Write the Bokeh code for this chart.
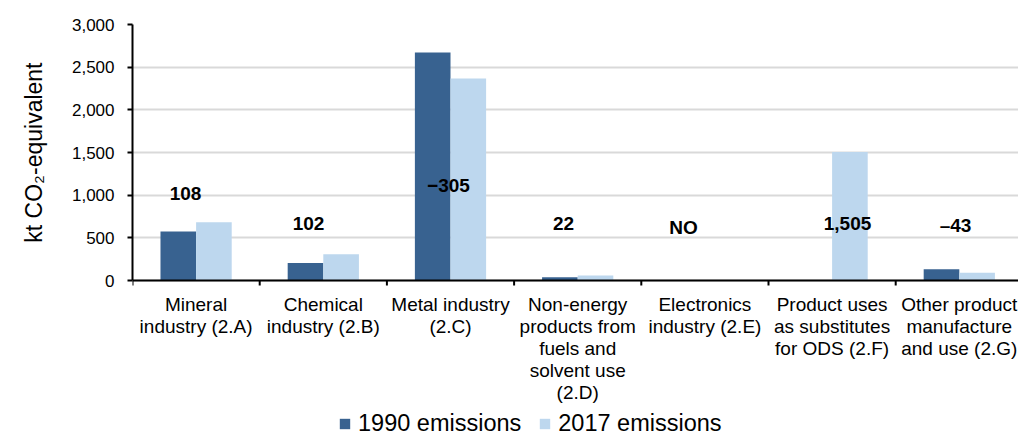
import numpy as np
from bokeh.plotting import figure
from bokeh.models import (FixedTicker, NumeralTickFormatter, Legend, LegendItem,
                          Range1d, ColumnDataSource, Title)
from bokeh.core.properties import value
from bokeh.embed import file_html
from bokeh.resources import INLINE

# ---------------- data ----------------
categories = ["Mineral\nindustry (2.A)", "Chemical\nindustry (2.B)",
              "Metal industry\n(2.C)",
              "Non-energy\nproducts from\nfuels and\nsolvent use\n(2.D)",
              "Electronics\nindustry (2.E)",
              "Product uses\nas substitutes\nfor ODS (2.F)",
              "Other product\nmanufacture\nand use (2.G)"]
emis_1990 = [575, 205, 2672, 38, 0, 0, 133]
emis_2017 = [683, 307, 2367, 60, 0, 1505, 90]
change_labels = ["108", "102", "\u2212305", "22", "NO", "1,505", "\u201343"]
label_x = [0.417, 1.384, 2.484, 3.388, 4.332, 5.621, 6.47]
label_y = [1018, 665, 1112, 665, 618, 665, 641]
y_ticks = [0, 500, 1000, 1500, 2000, 2500, 3000]
y_title = "kt CO\u2082-equivalent"

# ---------------- layout / style ----------------
FONT = "Liberation Sans"
DARK = "#386290"
LIGHT = "#BDD7EE"
W, H = 1018, 437
LEFT, TOP = 132, 24
ZERO_PX = 280            # screen row of the value 0
Y_MAX = 3000
UPP = Y_MAX / (ZERO_PX - TOP)          # data units per pixel
Y_START = -(H - ZERO_PX) * UPP
X_END = (W - LEFT) / 127.2

n = len(categories)
centers = np.arange(n) + 0.5
boundaries = np.arange(n + 1).astype(float)

p = figure(width=W, height=H, output_backend="svg", toolbar_location=None,
           x_range=Range1d(0, X_END), y_range=Range1d(Y_START, Y_MAX),
           x_axis_location=None,
           min_border_left=LEFT, min_border_right=0, min_border_top=TOP,
           min_border_bottom=0)
p.outline_line_color = None
p.background_fill_color = "white"
p.border_fill_color = "white"

src1 = ColumnDataSource(dict(x=centers - 0.14, top=emis_1990))
src2 = ColumnDataSource(dict(x=centers + 0.14, top=emis_2017))
r1 = p.vbar(x="x", top="top", width=0.28, source=src1, fill_color=DARK, line_color=None)
r2 = p.vbar(x="x", top="top", width=0.28, source=src2, fill_color=LIGHT, line_color=None)

# category axis (line, tick marks at boundaries, wrapped labels)
p.hspan(y=[0], line_color="black", line_width=2)
p.segment(x0=boundaries, y0=[0] * (n + 1), x1=boundaries, y1=[-5 * UPP] * (n + 1),
          line_color="black", line_width=2)
p.text(x=centers, y=[-13 * UPP] * n, text=categories, text_font=value(FONT),
       text_font_size="19px", text_color="black", text_align="center",
       text_baseline="top", text_line_height=1.05)

# change annotations
tsrc = ColumnDataSource(dict(x=label_x, y=label_y, t=change_labels))
p.text(x="x", y="y", text="t", source=tsrc, text_font=value(FONT),
       text_font_size="19px", text_font_style="bold", text_color="black",
       text_align="center", text_baseline="middle")

# y axis
p.yaxis.bounds = (0, Y_MAX)
p.yaxis.ticker = FixedTicker(ticks=y_ticks)
p.yaxis.formatter = NumeralTickFormatter(format="0,0")
p.yaxis.axis_line_color = "black"
p.yaxis.axis_line_width = 2
p.yaxis.major_tick_line_color = "black"
p.yaxis.major_tick_line_width = 2
p.yaxis.major_tick_out = 5
p.yaxis.major_tick_in = 0
p.yaxis.minor_tick_line_color = None
p.yaxis.major_label_text_font = FONT
p.yaxis.major_label_text_font_size = "17px"
p.yaxis.major_label_text_color = "black"
p.yaxis.major_label_standoff = 13

# y-axis title, aligned to the 0..3000 part of the axis
ytitle = Title(text=y_title, align="right", offset=38, standoff=40,
               vertical_align="top",
               text_font=FONT, text_font_size="23px", text_font_style="normal",
               text_color="black")
p.add_layout(ytitle, "left")

p.xgrid.grid_line_color = None
p.ygrid.grid_line_color = "#d9d9d9"
p.ygrid.grid_line_width = 2

legend = Legend(items=[LegendItem(label="1990 emissions", renderers=[r1]),
                       LegendItem(label="2017 emissions", renderers=[r2])],
                orientation="horizontal", location=(206, 0),
                label_text_font=FONT, label_text_font_size="23.5px",
                label_text_color="black", glyph_width=13, glyph_height=13,
                label_standoff=7, spacing=17, padding=0, margin=0,
                border_line_color=None, background_fill_alpha=0)
p.add_layout(legend, "center")

open("out.html", "w").write(file_html(p, INLINE))
